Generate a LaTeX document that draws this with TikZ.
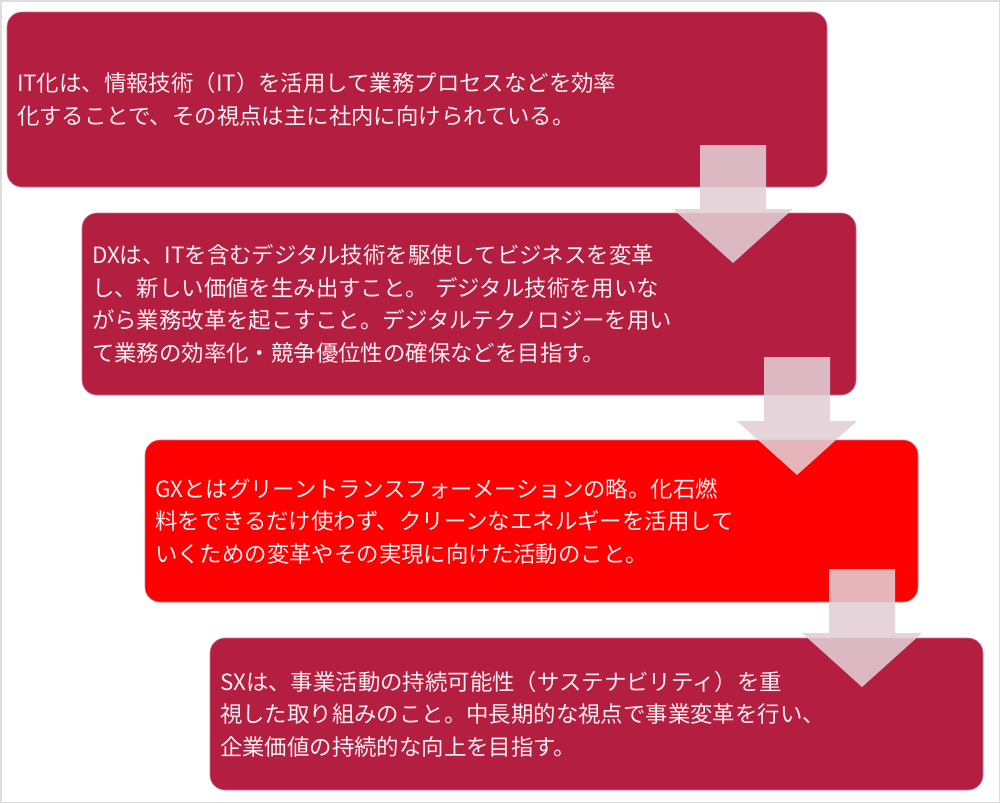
\documentclass[tikz,border=0pt]{standalone}
\usepackage{fontspec}
\setmainfont{Noto Sans CJK JP}
\usepackage{tikz}
\usetikzlibrary{positioning}
\definecolor{crimson}{RGB}{180,30,64}
\definecolor{gxred}{RGB}{255,0,0}
\definecolor{arrowpink}{RGB}{226,207,212}
\definecolor{boxtext}{RGB}{252,238,241}
\definecolor{framegrey}{RGB}{221,221,221}
\newcommand{\tfbox}[6] {\node at (#1) (#2) [tfstage, fill=#3, minimum width=#4, minimum height=#5, text width=#4-20pt] {#6};}
\newcommand{\tfarrow}[1] {\fill [arrowpink, opacity=0.88] ($(#1)+(-33,0)$) -- ++(66,0) -- ++(0,64) -- ++(27,0) -- ($(#1)+(0,118)$) -- ($(#1)+(-60,64)$) -- ++(27,0) -- cycle;}
\usetikzlibrary{calc}

\begin{document}
\begin{tikzpicture}[x=1pt, y=-1pt,
  tfstage/.style={rectangle, rounded corners=15pt, draw=crimson!60!white, line width=0.6pt,
    inner xsep=10pt, align=left, text=boxtext,
    font=\fontsize{22.4}{32.5}\selectfont}]

\fill [white] (0,0) rectangle (1000,803);
\draw [framegrey, line width=1.5pt] (0.75,0.75) rectangle (999.25,802.25);

\tfbox {417,99.5}{it}{crimson}{820pt}{175pt}{IT化は、情報技術（IT）を活用して業務プロセスなどを効率\\化することで、その視点は主に社内に向けられている。\\[-8pt]}
\tfbox {469,304}{dx}{crimson}{774pt}{182pt}{DXは、ITを含むデジタル技術を駆使してビジネスを変革\\し、新しい価値を生み出すこと。 デジタル技術を用いな\\がら業務改革を起こすこと。デジタルテクノロジーを用い\\て業務の効率化・競争優位性の確保などを目指す。}
\tfbox {531.5,521}{gx}{gxred}{773pt}{162pt}{GXとはグリーントランスフォーメーションの略。化石燃\\料をできるだけ使わず、クリーンなエネルギーを活用して\\いくための変革やその実現に向けた活動のこと。}
\tfbox {596.5,714}{sx}{crimson}{773pt}{152pt}{SXは、事業活動の持続可能性（サステナビリティ）を重\\視した取り組みのこと。中長期的な視点で事業変革を行い、\\企業価値の持続的な向上を目指す。}

\coordinate (itdx) at (733,145);
\coordinate (dxgx) at (797,357);
\coordinate (gxsx) at (862,569);
\tfarrow {itdx}
\tfarrow {dxgx}
\tfarrow {gxsx}
\end{tikzpicture}
\end{document}
